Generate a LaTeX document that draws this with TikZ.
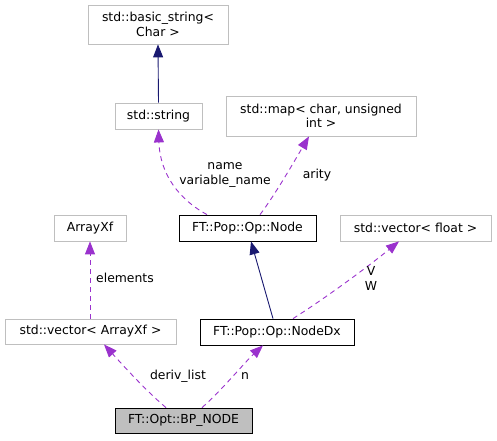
\documentclass[tikz,border=0pt]{standalone}
\usepackage{fontspec}
\setmainfont{DejaVu Sans}
\usetikzlibrary{arrows.meta}
\definecolor{edgepurple}{HTML}{9A32CD}
\definecolor{edgenavy}{HTML}{191970}
\definecolor{boxgray}{HTML}{BFBFBF}
\tikzset{
  box/.style={draw=boxgray, line width=0.8pt, fill=white, inner sep=0pt, align=center,
    font=\fontsize{12.4}{14.5}\selectfont},
  docbox/.style={box, draw=black},
  mainbox/.style={box, draw=black, fill=boxgray},
  usage/.style={draw=edgepurple, line width=0.9pt, dash pattern=on 5pt off 4pt,
    -{Triangle[length=13pt,width=10pt,fill=edgepurple]}},
  inherit/.style={draw=edgenavy, line width=0.9pt,
    -{Triangle[length=13pt,width=10pt,fill=edgenavy]}},
  lbl/.style={font=\fontsize{12.4}{14.5}\selectfont, align=center, inner sep=0pt}
}
\begin{document}
\begin{tikzpicture}[x=1pt,y=-1pt]
\useasboundingbox (0,0) rectangle (497,440);
% nodes
\node[box, minimum width=140pt, minimum height=39pt] (bstr) at (158,24.5) {std::basic\_string<\\Char >};
\node[box, minimum width=87pt, minimum height=26pt] (str) at (158.5,116) {std::string};
\node[box, minimum width=190pt, minimum height=40pt] (map) at (321,116) {std::map< char, unsigned\\int >};
\node[box, minimum width=72pt, minimum height=26pt] (axf) at (90,228) {ArrayXf};
\node[docbox, minimum width=137pt, minimum height=26pt] (node) at (247.5,228) {FT::Pop::Op::Node};
\node[box, minimum width=151pt, minimum height=26pt] (vfl) at (415.5,228) {std::vector< float >};
\node[box, minimum width=171pt, minimum height=25pt] (vaxf) at (90.5,331.5) {std::vector< ArrayXf >};
\node[docbox, minimum width=154pt, minimum height=26pt] (ndx) at (277,332) {FT::Pop::Op::NodeDx};
\node[mainbox, minimum width=137pt, minimum height=25pt] (bp) at (183.5,420.5) {FT::Opt::BP\_NODE};
% edges
\draw[inherit] (str.north) -- (bstr.south);
\draw[usage] (node.north -| 207,0) .. controls (180,200) and (160,175) .. (str.south);
\draw[usage] (node.north -| 260,0) .. controls (275,195) and (295,160) .. (map.south -| 309,0);
\draw[inherit] (ndx.north -| 273,0) -- (node.south -| 251,0);
\draw[usage] (ndx.north -| 293,0) .. controls (330,295) and (370,265) .. (vfl.south -| 399,0);
\draw[usage] (vaxf.north -| 90,0) -- (axf.south -| 90,0);
\draw[usage] (bp.north -| 166,0) .. controls (145,390) and (120,362) .. (vaxf.south -| 104,0);
\draw[usage] (bp.north -| 202,0) .. controls (222,390) and (245,362) .. (ndx.south -| 263,0);
% labels
\node[lbl] (l1) at (225,175) {name\\variable\_name};
\node[lbl] (l2) at (317,175) {arity};
\node[lbl] (l3) at (125,278) {elements};
\node[lbl] (l4) at (371,278.5) {V\\W};
\node[lbl] (l5) at (178,376) {deriv\_list};
\node[lbl] (l6) at (245,376) {n};
\end{tikzpicture}
\end{document}
